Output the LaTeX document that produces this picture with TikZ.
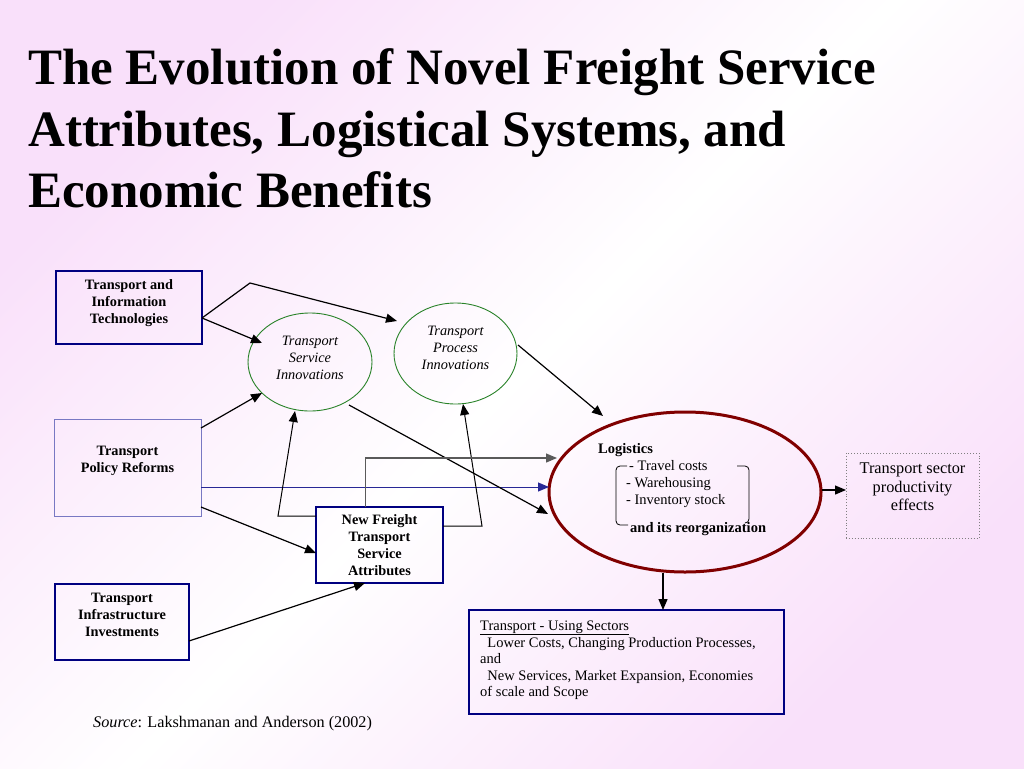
\documentclass[tikz,border=0pt]{standalone}
\usepackage{fontspec}
\setmainfont{Liberation Serif}
\usetikzlibrary{arrows.meta,calc,shapes.geometric}
\definecolor{pk}{RGB}{249,224,250}
\definecolor{navyb}{RGB}{0,0,128}
\definecolor{lavb}{RGB}{120,120,195}
\definecolor{grn}{RGB}{40,130,40}
\definecolor{maroonc}{RGB}{128,0,0}
\definecolor{blueln}{RGB}{40,40,150}
\definecolor{grayln}{RGB}{90,90,90}
\begin{document}
\begin{tikzpicture}[x=1pt,y=-1pt,
  box/.style={draw=navyb, line width=1.3pt, rectangle, inner sep=0pt},
  oval/.style={draw=grn, line width=0.9pt, ellipse, inner sep=0pt},
  btxt/.style={font=\fontsize{14.3}{17}\selectfont\bfseries, align=center, inner sep=0pt},
  itxt/.style={font=\fontsize{14.3}{17}\selectfont\itshape, align=center, inner sep=0pt},
  ntxt/.style={font=\fontsize{14.5}{17}\selectfont, anchor=base west, inner sep=0pt},
  titl/.style={font=\fontsize{51}{54}\selectfont\bfseries, anchor=base west, inner sep=0pt},
  conn/.style={line width=1.2pt, -{Triangle[length=11pt,width=9pt]}},
]
\shade[top color=pk, bottom color=pk, middle color=white, shading angle=45] (0,0) rectangle (1024,768);
\useasboundingbox (0,0) rectangle (1024,768);

% title
\node[titl] (t1) at (28,84) {The Evolution of Novel Freight Service};
\node[titl] (t2) at (28,146) {Attributes, Logistical Systems, and};
\node[titl] (t3) at (28,207) {Economic Benefits};

% boxes
\node[box, minimum width=146pt, minimum height=73pt] (tit) at (129,307.5) {};
\node[btxt] at (129,303) {Transport and\\Information\\Technologies};
\node[box, draw=lavb, line width=1pt, minimum width=147pt, minimum height=97pt] (tpr) at (127.5,467.5) {};
\node[btxt] at (127.5,460.5) {Transport\\Policy Reforms};
\node[box, minimum width=134pt, minimum height=76pt] (tii) at (122,622) {};
\node[btxt] at (122,615) {Transport\\Infrastructure\\Investments};
\node[box, minimum width=127pt, minimum height=76pt] (nft) at (379.5,545) {};
\node[btxt] at (379.5,545.5) {New Freight\\Transport\\Service\\Attributes};

% ellipses
\node[oval, minimum width=124pt, minimum height=98pt] (tsi) at (310,362) {};
\node[itxt] at (310,358) {Transport\\Service\\Innovations};
\node[oval, minimum width=123pt, minimum height=101pt] (tpi) at (455.5,353.5) {};
\node[itxt] at (455.5,348) {Transport\\Process\\Innovations};
\node[draw=maroonc, line width=3pt, ellipse, inner sep=0pt, minimum width=272pt, minimum height=160pt] (log) at (685,492) {};
\node[ntxt, font=\fontsize{14.5}{17}\selectfont\bfseries] at (598,453) {Logistics};
\node[ntxt] at (629,470) {- Travel costs};
\node[ntxt] at (626,487) {- Warehousing};
\node[ntxt] at (626,504) {- Inventory stock};
\node[ntxt, font=\fontsize{14.5}{17}\selectfont\bfseries] at (630,532) {and its reorganization};
\draw[line width=0.8pt, rounded corners=4pt] (627,466) -- (616,466) -- (616,525) -- (628,525);
\draw[line width=0.8pt, rounded corners=4pt] (737,466) -- (749,466) -- (749,523) -- (745,523);

% productivity box
\node[draw=gray, dotted, line width=0.9pt, rectangle, minimum width=133pt, minimum height=85pt] (tsp) at (912.5,495.5) {};
\node[font=\fontsize{16.3}{18.5}\selectfont, align=center, inner sep=0pt] at (912.5,487) {Transport sector\\productivity\\effects};

% using sectors box
\node[box, line width=1.2pt, minimum width=315pt, minimum height=104pt] (tus) at (626.5,662) {};
\node[ntxt] at (480,630) {\underline{Transport - Using Sectors}};
\node[ntxt] at (480,647) {\ \ Lower Costs, Changing Production Processes,};
\node[ntxt] at (480,663) {and};
\node[ntxt] at (480,680) {\ \ New Services, Market Expansion, Economies};
\node[ntxt] at (480,696) {of scale and Scope};

% source
\node[ntxt, font=\fontsize{16.2}{17}\selectfont] at (93,727) {\textit{Source}: Lakshmanan and Anderson (2002)};

% connectors
\coordinate (bend1) at ($(tit)+(121,-24.5)$);
\draw[conn] ($(tit)+(73,10.5)$) -- (bend1) -- ($(tpi)+(-58.5,-32.5)$);
\draw[conn] ($(tit)+(73,10.5)$) -- ($(tsi)+(-48,-19)$);
\draw[conn] ($(tpr)+(73.5,-39.5)$) -- ($(tsi)+(-48,31)$);
\draw[conn, draw=blueln, -{Triangle[length=11pt,width=9pt]}, line width=1pt] ($(tpr)+(73.5,19.5)$) -- ($(log)+(-136,-5)$);
\draw[conn] ($(tpr)+(73.5,39.5)$) -- ($(nft)+(-63.5,8)$);
\draw[conn] ($(tii)+(67,19)$) -- ($(nft)+(-14.5,38)$);
\draw[conn] ($(tsi)+(39,43)$) -- ($(log)+(-137,22)$);
\draw[conn] ($(tpi)+(62.5,-8.5)$) -- ($(log)+(-82,-76)$);
\draw[conn, line width=1pt] ($(nft)+(-63.5,-29)$) -- ($(nft)+(-101.5,-29)$) -- ($(tsi)+(-15,49)$);
\draw[conn, line width=1pt] ($(nft)+(63.5,-19)$) -- ($(nft)+(102.5,-19)$) -- ($(tpi)+(7.5,50.5)$);
\draw[conn, draw=grayln, line width=1.2pt] ($(nft)+(-14,-38)$) -- ($(nft)+(-14,-87)$) -- ($(log)+(-128,-34)$);
\draw[conn] ($(log)+(137,-2)$) -- ($(tsp)+(-66.5,-5.5)$);
\draw[conn] ($(log)+(-22,81)$) -- ($(tus)+(36.5,-52)$);
\end{tikzpicture}
\end{document}
